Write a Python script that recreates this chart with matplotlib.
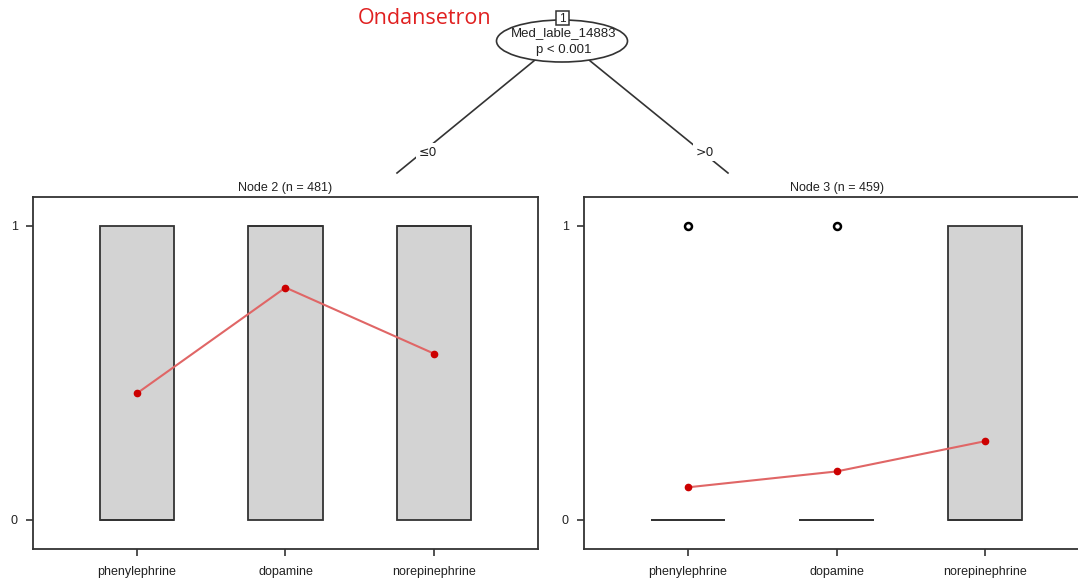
import matplotlib.pyplot as plt
from matplotlib.patches import Ellipse, Rectangle

plt.rcParams['font.family'] = ['Liberation Sans', 'DejaVu Sans']

# vasopressor categories on the x axis
drugs = ["phenylephrine", "dopamine", "norepinephrine"]

# split node
split_var = "Med_lable_14883"
split_p = "p < 0.001"
node_ids = [2, 3]
node_n = [481, 459]
edge_labels = ["\u22640", ">0"]

# box summaries per node (0/1 outcome): q1, median, q3, outliers
node2_q1 = [0, 0, 0]
node2_med = [0, 1, 1]
node2_q3 = [1, 1, 1]
node2_fliers = [[], [], []]
node2_mean = [0.43, 0.79, 0.565]

node3_q1 = [0, 0, 0]
node3_med = [0, 0, 0]
node3_q3 = [0, 0, 1]
node3_fliers = [[1], [1], []]
node3_mean = [0.11, 0.164, 0.267]

W, H = 1078, 582
fig = plt.figure(figsize=(W / 100, H / 100), dpi=100)

ink = '#333333'


def node_panel(ax, q1, med, q3, fliers, means, title):
    pos = list(range(1, len(drugs) + 1))
    stats = []
    for a, m, b, f in zip(q1, med, q3, fliers):
        stats.append(dict(q1=a, med=m, q3=b, whislo=a, whishi=b, fliers=f))
    ax.bxp(stats, positions=pos, widths=0.5, patch_artist=True, showcaps=False,
           boxprops=dict(facecolor='#d3d3d3', edgecolor=ink, linewidth=1.3),
           medianprops=dict(color=ink, linewidth=1.3),
           whiskerprops=dict(color=ink, linewidth=1.3),
           flierprops=dict(marker='o', markersize=5, markerfacecolor='none',
                           markeredgecolor='black', markeredgewidth=1.8))
    ax.plot(pos, means, color='#e06666', linewidth=1.5, zorder=5)
    ax.plot(pos, means, 'o', color='#cc0000', markersize=4.5, zorder=6)
    ax.set_xlim(0.3, 3.7)
    ax.set_ylim(-0.1, 1.1)
    ax.set_yticks([0, 1])
    ax.set_yticklabels(["0", "1"])
    ax.set_xticks(pos)
    ax.set_xticklabels(drugs)
    ax.tick_params(axis='y', length=5, width=1.2, color=ink, pad=6,
                   labelsize=9, labelcolor='#222222')
    ax.tick_params(axis='x', length=5, width=1.2, color=ink, pad=7,
                   labelsize=9, labelcolor='#222222')
    for s in ax.spines.values():
        s.set_color(ink)
        s.set_linewidth(1.3)
    ax.set_title(title, fontsize=9, pad=4, color='#222222')


ax_w = 505 / W
ax_b = 1 - 549 / H
ax_h = (549 - 196.5) / H

ax2 = fig.add_axes([33 / W, ax_b, ax_w, ax_h])
node_panel(ax2, node2_q1, node2_med, node2_q3, node2_fliers, node2_mean,
           f"Node {node_ids[0]} (n = {node_n[0]})")

ax3 = fig.add_axes([584 / W, ax_b, ax_w, ax_h])
node_panel(ax3, node3_q1, node3_med, node3_q3, node3_fliers, node3_mean,
           f"Node {node_ids[1]} (n = {node_n[1]})")

# tree part drawn in pixel coordinates
tree = fig.add_axes([0, 0, 1, 1], zorder=-1)
tree.set_xlim(0, W)
tree.set_ylim(H, 0)
tree.axis('off')

tree.plot([535, 397], [60, 173], color=ink, linewidth=1.2)
tree.plot([589, 728], [60, 173], color=ink, linewidth=1.2)
for x, lab in zip([428, 705], edge_labels):
    tree.text(x, 152, lab, ha='center', va='center', fontsize=9,
              color='#222222', family=['DejaVu Sans'],
              bbox=dict(facecolor='white', edgecolor='none', pad=2))

tree.add_patch(Ellipse((562, 41), 131, 42, facecolor='white', edgecolor=ink,
                       linewidth=1.2, zorder=3))
tree.text(564, 33, split_var, ha='center', va='center', fontsize=9.5,
          color='#222222', zorder=4)
tree.text(564, 50, split_p, ha='center', va='center', fontsize=9.5,
          color='#222222', zorder=4)
tree.add_patch(Rectangle((556, 11), 13, 14, facecolor='white', edgecolor=ink,
                         linewidth=1.1, zorder=5))
tree.text(562.5, 18.5, "1", ha='center', va='center', fontsize=8.5,
          color='#222222', zorder=6)

tree.text(425, 18, "Ondansetron", ha='center', va='center', fontsize=15.5,
          color='#e02020', family=['Open Sans', 'DejaVu Sans'])

fig.savefig("out.png", dpi=100)
